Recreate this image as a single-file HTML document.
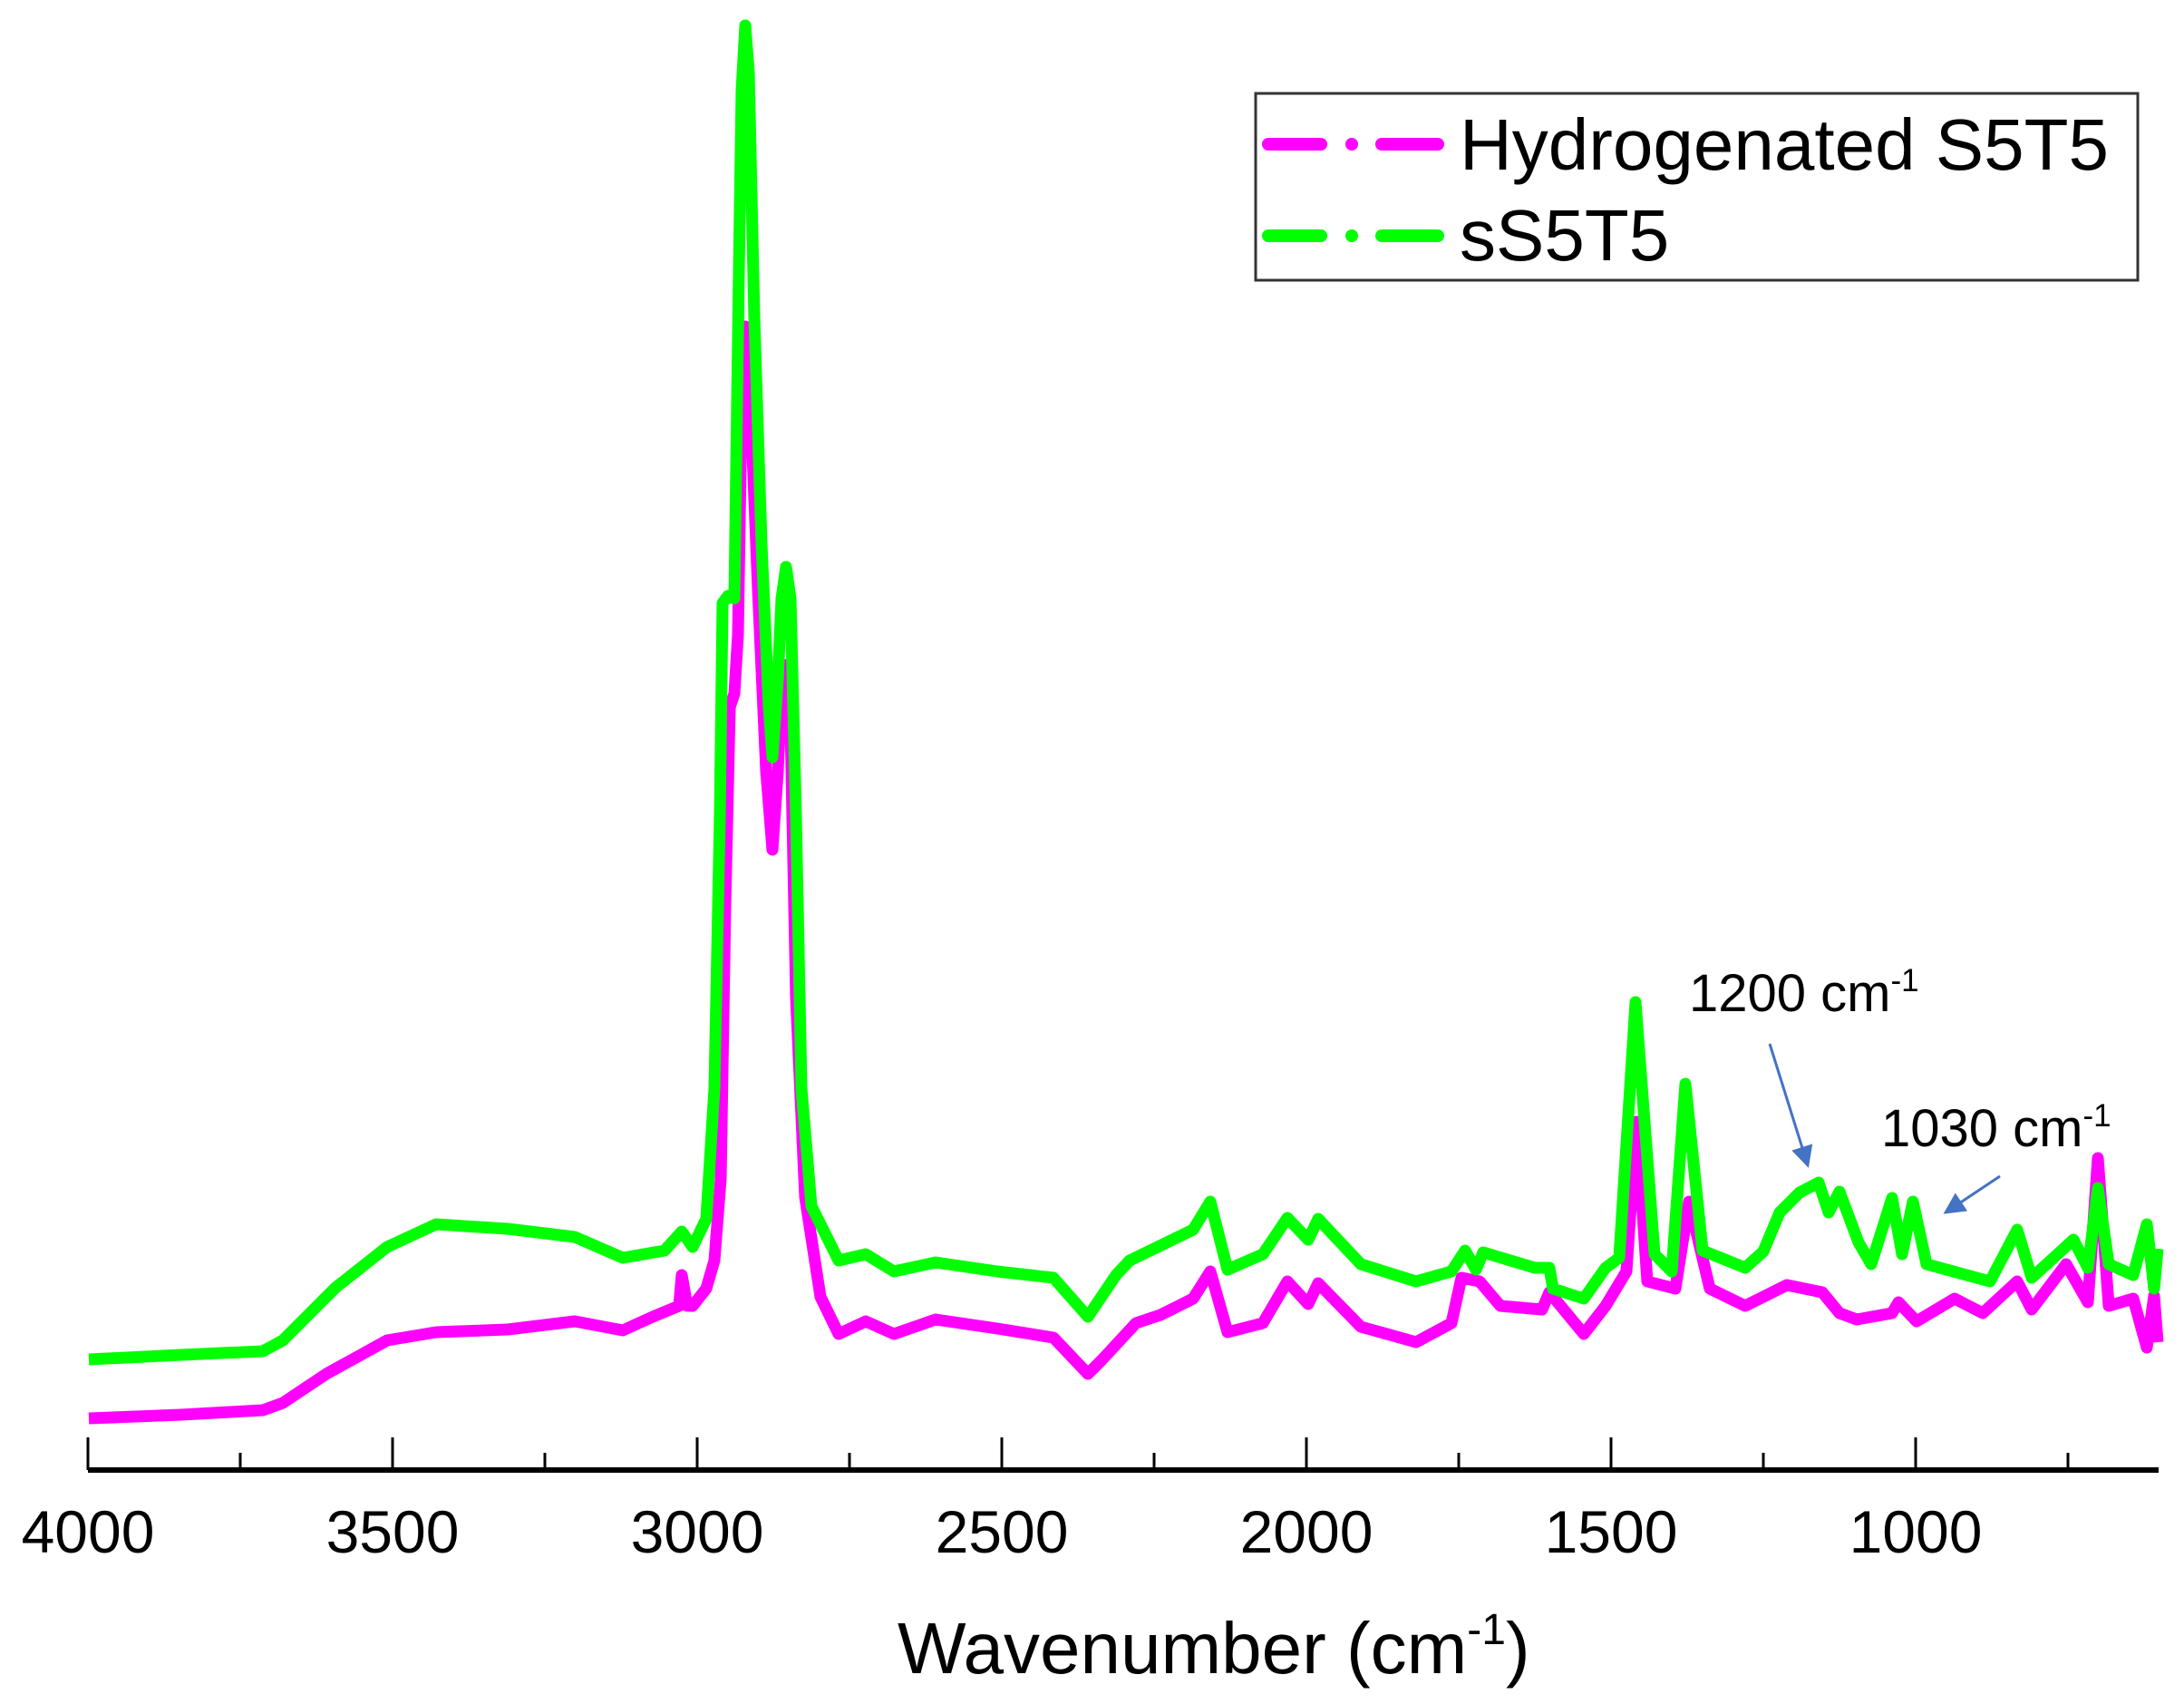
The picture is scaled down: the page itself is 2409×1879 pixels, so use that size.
<!DOCTYPE html>
<html><head><meta charset="utf-8"><style>
html,body{margin:0;padding:0;background:#fff;}
svg{display:block;}
text{font-family:"Liberation Sans",Arial,sans-serif;fill:#000;}
</style></head><body>
<svg width="2409" height="1879" viewBox="0 0 2409 1879" xmlns="http://www.w3.org/2000/svg">
<defs><marker id="ah" markerWidth="8" markerHeight="8" refX="7" refY="4" orient="auto" markerUnits="strokeWidth"><path d="M0,0 L8,4 L0,8 Z" fill="#4472c4"/></marker></defs>
<!-- magenta -->
<polyline fill="none" stroke="#ff00ff" stroke-width="13" stroke-linejoin="round" points="98,1564 200,1560 290,1555 312,1547 360,1515 427,1478 481,1469 560,1466 634,1457 687,1467 720,1452 749,1440 752,1406 758,1440 764,1440 779,1421 788,1390 795,1300 800,1000 805,780 810,765 814,700 818,450 822,360 828,450 836,650 845,850 852,937 858,850 862,760 867,733 872,800 878,1100 888,1320 905,1430 925,1471 955,1457 986,1471 1032,1455 1100,1465 1162,1475 1200,1515 1215,1500 1253,1459 1280,1450 1316,1432 1335,1402 1354,1469 1393,1459 1420,1413 1443,1438 1454,1415 1501,1463 1562,1480 1601,1459 1612,1409 1632,1413 1655,1440 1701,1444 1709,1425 1747,1471 1771,1440 1794,1402 1805,1237 1817,1413 1848,1421 1863,1325 1886,1421 1925,1440 1971,1417 2010,1425 2029,1448 2048,1455 2087,1448 2094,1436 2114,1457 2156,1432 2187,1448 2225,1413 2241,1444 2279,1394 2303,1436 2314,1277 2326,1440 2353,1432 2368,1486 2376,1429 2380,1480"/>
<!-- green -->
<polyline fill="none" stroke="#00ff00" stroke-width="13" stroke-linejoin="round" points="98,1499 200,1494 290,1490 312,1478 370,1420 427,1375 481,1350 560,1355 634,1364 687,1387 733,1379 752,1358 764,1375 779,1344 788,1200 794,900 797,665 803,657 810,660 815,300 818,100 822,28 826,80 832,350 840,600 848,780 852,835 858,750 862,660 867,625 872,660 878,900 884,1200 895,1330 925,1390 955,1383 986,1402 1032,1392 1100,1402 1162,1409 1200,1452 1231,1406 1246,1390 1316,1356 1335,1325 1354,1400 1393,1383 1420,1343 1443,1367 1454,1344 1501,1394 1562,1413 1601,1402 1616,1379 1628,1400 1636,1381 1693,1398 1709,1398 1713,1421 1747,1432 1771,1398 1786,1387 1804,1105 1825,1383 1844,1402 1859,1195 1878,1379 1925,1398 1945,1380 1963,1337 1985,1315 2006,1304 2017,1337 2029,1314 2050,1370 2064,1394 2087,1321 2098,1383 2110,1325 2125,1394 2195,1413 2225,1356 2241,1409 2287,1367 2303,1398 2314,1310 2326,1394 2353,1406 2368,1350 2376,1421 2380,1377"/>
<!-- axis -->
<line x1="97" y1="1621" x2="2381" y2="1621" stroke="#000" stroke-width="6"/>
<g stroke="#000" stroke-width="3">
<line x1="97" y1="1585" x2="97" y2="1621"/><line x1="433" y1="1585" x2="433" y2="1621"/><line x1="769" y1="1585" x2="769" y2="1621"/><line x1="1105" y1="1585" x2="1105" y2="1621"/><line x1="1441" y1="1585" x2="1441" y2="1621"/><line x1="1777" y1="1585" x2="1777" y2="1621"/><line x1="2113" y1="1585" x2="2113" y2="1621"/>
<line x1="265" y1="1602" x2="265" y2="1621"/><line x1="601" y1="1602" x2="601" y2="1621"/><line x1="937" y1="1602" x2="937" y2="1621"/><line x1="1273" y1="1602" x2="1273" y2="1621"/><line x1="1609" y1="1602" x2="1609" y2="1621"/><line x1="1945" y1="1602" x2="1945" y2="1621"/><line x1="2281" y1="1602" x2="2281" y2="1621"/>
</g>
<g font-size="66" text-anchor="middle">
<text x="97" y="1712">4000</text><text x="433" y="1712">3500</text><text x="769" y="1712">3000</text><text x="1105" y="1712">2500</text><text x="1441" y="1712">2000</text><text x="1777" y="1712">1500</text><text x="2113" y="1712">1000</text>
</g>
<text x="990" y="1845" font-size="80">Wavenumber (cm<tspan font-size="48" dy="-32">-1</tspan><tspan dy="32">)</tspan></text>
<!-- legend -->
<rect x="1385" y="103" width="973" height="206" fill="#fff" stroke="#333" stroke-width="3"/>
<g stroke-width="14" stroke-linecap="round">
<line x1="1399" y1="159" x2="1457" y2="159" stroke="#ff00ff"/><line x1="1491" y1="159" x2="1491" y2="159" stroke="#ff00ff"/><line x1="1524" y1="159" x2="1586" y2="159" stroke="#ff00ff"/>
<line x1="1399" y1="260" x2="1457" y2="260" stroke="#00ff00"/><line x1="1491" y1="260" x2="1491" y2="260" stroke="#00ff00"/><line x1="1524" y1="260" x2="1586" y2="260" stroke="#00ff00"/>
</g>
<text x="1610" y="187" font-size="80">Hydrogenated S5T5</text>
<text x="1610" y="287" font-size="80">sS5T5</text>
<!-- annotations -->
<text x="1863" y="1115" font-size="58">1200 cm<tspan font-size="35" dy="-22">-1</tspan></text>
<text x="2075" y="1264" font-size="58">1030 cm<tspan font-size="35" dy="-22">-1</tspan></text>
<line x1="1952" y1="1151" x2="1994" y2="1285" stroke="#4472c4" stroke-width="3" marker-end="url(#ah)"/>
<line x1="2206" y1="1297" x2="2146" y2="1337" stroke="#4472c4" stroke-width="3" marker-end="url(#ah)"/>
</svg>
</body></html>
